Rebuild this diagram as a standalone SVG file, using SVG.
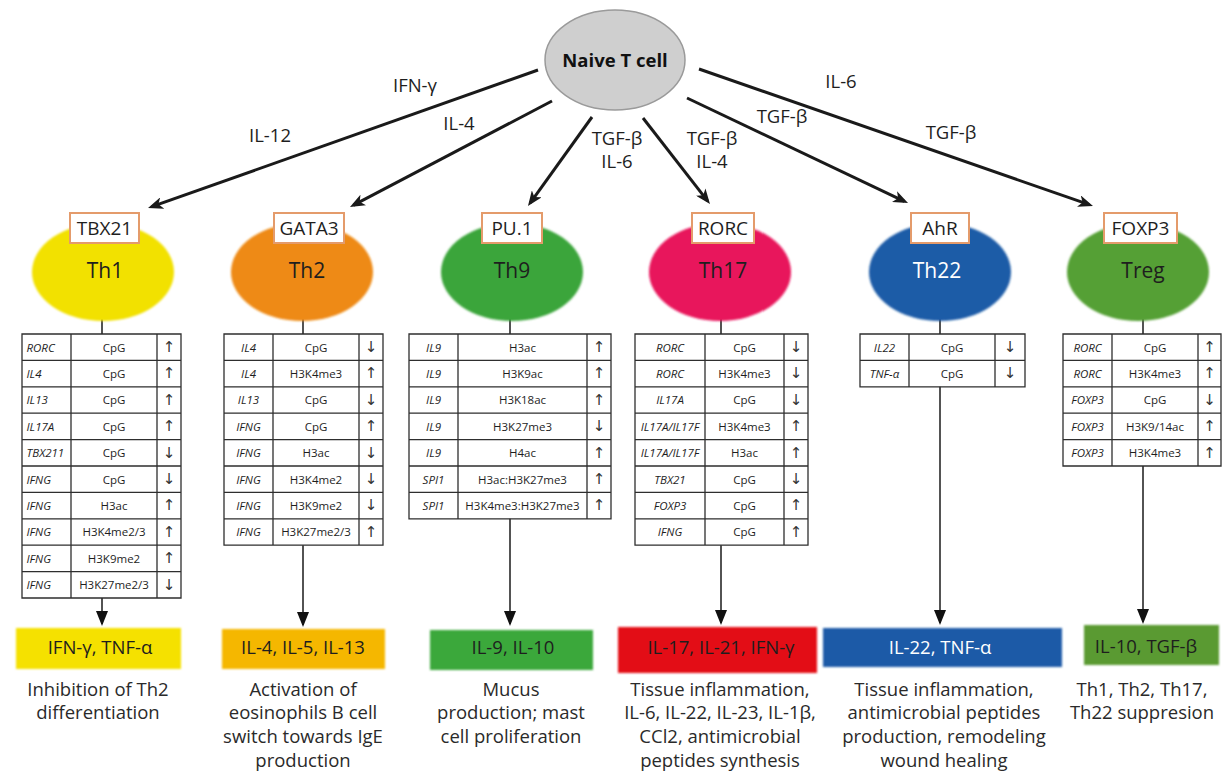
<svg xmlns="http://www.w3.org/2000/svg" width="1222" height="774" viewBox="0 0 1222 774">
<style>
text{font-family:"Open Sans","Noto Sans","Liberation Sans",sans-serif;fill:#1e1e1e}
.lbl{font-size:18.5px;text-anchor:middle}
.tf{font-size:19px;text-anchor:middle}
.cell{font-size:21px;text-anchor:middle}
.ck{font-size:18.5px;text-anchor:middle}
.desc{font-size:18.5px;text-anchor:middle;fill:#2a2a2a}
.g{font-size:11.5px;font-style:italic;text-anchor:middle}
.gl{font-size:11.5px;font-style:italic}
.m{font-size:11.5px;text-anchor:middle}
.a{font-family:"DejaVu Sans",sans-serif;font-size:15px;text-anchor:middle;fill:#333}
.tl{fill:none;stroke:#2e2e2e;stroke-width:1.3}
.tfb{fill:#fff;stroke:#e49b6b;stroke-width:2}
.conn{stroke:#1a1a1a;stroke-width:3;fill:none;marker-end:url(#ah)}
.vc{stroke:#1a1a1a;stroke-width:1.5;fill:none}
.va{marker-end:url(#vh)}
</style>
<defs>
<marker id="ah" viewBox="0 0 15 12" refX="11" refY="6" markerWidth="15" markerHeight="12" markerUnits="userSpaceOnUse" orient="auto"><path d="M0,0 L15,6 L0,12 L4,6 z" fill="#1a1a1a"/></marker>
<marker id="vh" viewBox="0 0 15 12" refX="13" refY="6" markerWidth="15" markerHeight="12" markerUnits="userSpaceOnUse" orient="auto"><path d="M0,0 L15,6 L0,12 z" fill="#111"/></marker>
<filter id="soft" x="-10%" y="-10%" width="120%" height="120%"><feGaussianBlur stdDeviation="1.2"/></filter>
</defs>
<rect width="1222" height="774" fill="#fff"/>

<g id="connectors">
<line class="conn" x1="538" y1="70" x2="151.8" y2="206.7"/>
<line class="conn" x1="552" y1="101" x2="353.5" y2="205.1"/>
<line class="conn" x1="592" y1="117" x2="530.3" y2="202.8"/>
<line class="conn" x1="643" y1="118" x2="707.5" y2="200.8"/>
<line class="conn" x1="687" y1="98" x2="904.4" y2="201.3"/>
<line class="conn" x1="699" y1="69" x2="1089.2" y2="204.7"/>
<text class="lbl" x="415" y="92">IFN-γ</text>
<text class="lbl" x="270" y="142">IL-12</text>
<text class="lbl" x="459" y="130">IL-4</text>
<text class="lbl" x="617" y="145">TGF-β</text>
<text class="lbl" x="617" y="168">IL-6</text>
<text class="lbl" x="712" y="145">TGF-β</text>
<text class="lbl" x="712" y="168">IL-4</text>
<text class="lbl" x="782" y="123">TGF-β</text>
<text class="lbl" x="841" y="88">IL-6</text>
<text class="lbl" x="951" y="139">TGF-β</text>
<line class="vc" x1="102" y1="319" x2="102" y2="334"/>
<line class="vc" x1="303" y1="319" x2="303" y2="334"/>
<line class="vc" x1="510" y1="319" x2="510" y2="334"/>
<line class="vc" x1="721" y1="319" x2="721" y2="334"/>
<line class="vc" x1="940" y1="319" x2="940" y2="334"/>
<line class="vc" x1="1143" y1="319" x2="1143" y2="334"/>
<line class="vc va" x1="102" y1="598" x2="102" y2="624"/>
<line class="vc va" x1="303" y1="545.2" x2="303" y2="625"/>
<line class="vc va" x1="510" y1="518.8" x2="510" y2="624"/>
<line class="vc va" x1="721" y1="545.2" x2="721" y2="623"/>
<line class="vc va" x1="940" y1="386.8" x2="940" y2="623"/>
<line class="vc va" x1="1143" y1="466" x2="1143" y2="622"/>
</g>

<g id="naive">
<ellipse cx="615" cy="60" rx="70" ry="50" fill="#cfcfcf" stroke="#9a9a9a" stroke-width="1.5"/>
<text x="615" y="67" style="font-size:18.5px;font-weight:bold;text-anchor:middle;fill:#111">Naive T cell</text>
</g>

<g id="th1">
<ellipse cx="103" cy="272" rx="71" ry="49" fill="#f2e100" filter="url(#soft)"/>
<rect class="tfb" x="70" y="213" width="69" height="30"/>
<text class="tf" x="104.5" y="235">TBX21</text>
<text class="cell" x="105" y="278">Th1</text>
<g transform="translate(22,334)">
<path class="tl" d="M0,0H159V264H0Z M49,0V264 M135,0V264 M0,26.4H159 M0,52.8H159 M0,79.2H159 M0,105.6H159 M0,132H159 M0,158.4H159 M0,184.8H159 M0,211.2H159 M0,237.6H159"/>
<text class="gl" x="4.5" y="17.5">RORC</text><text class="m" x="92" y="17.5">CpG</text><text class="a" x="147" y="18">↑</text>
<text class="gl" x="4.5" y="43.9">IL4</text><text class="m" x="92" y="43.9">CpG</text><text class="a" x="147" y="44.4">↑</text>
<text class="gl" x="4.5" y="70.3">IL13</text><text class="m" x="92" y="70.3">CpG</text><text class="a" x="147" y="70.8">↑</text>
<text class="gl" x="4.5" y="96.7">IL17A</text><text class="m" x="92" y="96.7">CpG</text><text class="a" x="147" y="97.2">↑</text>
<text class="gl" x="4.5" y="123.1">TBX211</text><text class="m" x="92" y="123.1">CpG</text><text class="a" x="147" y="123.6">↓</text>
<text class="gl" x="4.5" y="149.5">IFNG</text><text class="m" x="92" y="149.5">CpG</text><text class="a" x="147" y="150">↓</text>
<text class="gl" x="4.5" y="175.9">IFNG</text><text class="m" x="92" y="175.9">H3ac</text><text class="a" x="147" y="176.4">↑</text>
<text class="gl" x="4.5" y="202.3">IFNG</text><text class="m" x="92" y="202.3">H3K4me2/3</text><text class="a" x="147" y="202.8">↑</text>
<text class="gl" x="4.5" y="228.7">IFNG</text><text class="m" x="92" y="228.7">H3K9me2</text><text class="a" x="147" y="229.2">↑</text>
<text class="gl" x="4.5" y="255.1">IFNG</text><text class="m" x="92" y="255.1">H3K27me2/3</text><text class="a" x="147" y="255.6">↓</text>
</g>
<rect x="16" y="628" width="165" height="41" fill="#f5e100" filter="url(#soft)"/>
<text class="ck" x="100" y="654">IFN-γ, TNF-α</text>
<text class="desc" x="98" y="695.5">Inhibition of Th2</text>
<text class="desc" x="98" y="719.3">differentiation</text>
</g>

<g id="th2">
<ellipse cx="302" cy="272" rx="71" ry="49" fill="#ee8a14" filter="url(#soft)"/>
<rect class="tfb" x="274" y="213" width="70" height="30"/>
<text class="tf" x="309" y="235">GATA3</text>
<text class="cell" x="307" y="278">Th2</text>
<g transform="translate(224,334)">
<path class="tl" d="M0,0H159V211.2H0Z M49,0V211.2 M135,0V211.2 M0,26.4H159 M0,52.8H159 M0,79.2H159 M0,105.6H159 M0,132H159 M0,158.4H159 M0,184.8H159"/>
<text class="g" x="24.5" y="17.5">IL4</text><text class="m" x="92" y="17.5">CpG</text><text class="a" x="147" y="18">↓</text>
<text class="g" x="24.5" y="43.9">IL4</text><text class="m" x="92" y="43.9">H3K4me3</text><text class="a" x="147" y="44.4">↑</text>
<text class="g" x="24.5" y="70.3">IL13</text><text class="m" x="92" y="70.3">CpG</text><text class="a" x="147" y="70.8">↓</text>
<text class="g" x="24.5" y="96.7">IFNG</text><text class="m" x="92" y="96.7">CpG</text><text class="a" x="147" y="97.2">↑</text>
<text class="g" x="24.5" y="123.1">IFNG</text><text class="m" x="92" y="123.1">H3ac</text><text class="a" x="147" y="123.6">↓</text>
<text class="g" x="24.5" y="149.5">IFNG</text><text class="m" x="92" y="149.5">H3K4me2</text><text class="a" x="147" y="150">↓</text>
<text class="g" x="24.5" y="175.9">IFNG</text><text class="m" x="92" y="175.9">H3K9me2</text><text class="a" x="147" y="176.4">↓</text>
<text class="g" x="24.5" y="202.3">IFNG</text><text class="m" x="92" y="202.3">H3K27me2/3</text><text class="a" x="147" y="202.8">↑</text>
</g>
<rect x="222" y="629" width="163" height="40" fill="#f5b700" filter="url(#soft)"/>
<text class="ck" x="303" y="654">IL-4, IL-5, IL-13</text>
<text class="desc" x="303" y="695.5">Activation of</text>
<text class="desc" x="303" y="719.3">eosinophils B cell</text>
<text class="desc" x="303" y="743.1">switch towards IgE</text>
<text class="desc" x="303" y="767">production</text>
</g>

<g id="th9">
<ellipse cx="512" cy="272" rx="71" ry="49" fill="#3ba53a" filter="url(#soft)"/>
<rect class="tfb" x="482" y="213" width="60" height="30"/>
<text class="tf" x="512" y="235">PU.1</text>
<text class="cell" x="512" y="278">Th9</text>
<g transform="translate(409,334)">
<path class="tl" d="M0,0H202V184.8H0Z M49,0V184.8 M178,0V184.8 M0,26.4H202 M0,52.8H202 M0,79.2H202 M0,105.6H202 M0,132H202 M0,158.4H202"/>
<text class="g" x="24.5" y="17.5">IL9</text><text class="m" x="113.5" y="17.5">H3ac</text><text class="a" x="190" y="18">↑</text>
<text class="g" x="24.5" y="43.9">IL9</text><text class="m" x="113.5" y="43.9">H3K9ac</text><text class="a" x="190" y="44.4">↑</text>
<text class="g" x="24.5" y="70.3">IL9</text><text class="m" x="113.5" y="70.3">H3K18ac</text><text class="a" x="190" y="70.8">↑</text>
<text class="g" x="24.5" y="96.7">IL9</text><text class="m" x="113.5" y="96.7">H3K27me3</text><text class="a" x="190" y="97.2">↓</text>
<text class="g" x="24.5" y="123.1">IL9</text><text class="m" x="113.5" y="123.1">H4ac</text><text class="a" x="190" y="123.6">↑</text>
<text class="g" x="24.5" y="149.5">SPI1</text><text class="m" x="113.5" y="149.5">H3ac:H3K27me3</text><text class="a" x="190" y="150">↑</text>
<text class="g" x="24.5" y="175.9">SPI1</text><text class="m" x="113.5" y="175.9">H3K4me3:H3K27me3</text><text class="a" x="190" y="176.4">↑</text>
</g>
<rect x="430" y="630" width="163" height="40" fill="#3aa83a" filter="url(#soft)"/>
<text class="ck" x="513" y="654">IL-9, IL-10</text>
<text class="desc" x="511" y="695.5">Mucus</text>
<text class="desc" x="511" y="719.3">production; mast</text>
<text class="desc" x="511" y="743.1">cell proliferation</text>
</g>

<g id="th17">
<ellipse cx="720" cy="272" rx="71" ry="49" fill="#e8145b" filter="url(#soft)"/>
<rect class="tfb" x="692" y="213" width="62" height="30"/>
<text class="tf" x="723" y="235">RORC</text>
<text class="cell" x="723" y="278">Th17</text>
<g transform="translate(635,334)">
<path class="tl" d="M0,0H173V211.2H0Z M70,0V211.2 M149,0V211.2 M0,26.4H173 M0,52.8H173 M0,79.2H173 M0,105.6H173 M0,132H173 M0,158.4H173 M0,184.8H173"/>
<text class="g" x="35" y="17.5">RORC</text><text class="m" x="109.5" y="17.5">CpG</text><text class="a" x="161" y="18">↓</text>
<text class="g" x="35" y="43.9">RORC</text><text class="m" x="109.5" y="43.9">H3K4me3</text><text class="a" x="161" y="44.4">↓</text>
<text class="g" x="35" y="70.3">IL17A</text><text class="m" x="109.5" y="70.3">CpG</text><text class="a" x="161" y="70.8">↓</text>
<text class="g" x="35" y="96.7">IL17A/IL17F</text><text class="m" x="109.5" y="96.7">H3K4me3</text><text class="a" x="161" y="97.2">↑</text>
<text class="g" x="35" y="123.1">IL17A/IL17F</text><text class="m" x="109.5" y="123.1">H3ac</text><text class="a" x="161" y="123.6">↑</text>
<text class="g" x="35" y="149.5">TBX21</text><text class="m" x="109.5" y="149.5">CpG</text><text class="a" x="161" y="150">↓</text>
<text class="g" x="35" y="175.9">FOXP3</text><text class="m" x="109.5" y="175.9">CpG</text><text class="a" x="161" y="176.4">↑</text>
<text class="g" x="35" y="202.3">IFNG</text><text class="m" x="109.5" y="202.3">CpG</text><text class="a" x="161" y="202.8">↑</text>
</g>
<rect x="618" y="627" width="199" height="46" fill="#e30a17" filter="url(#soft)"/>
<text class="ck" x="721" y="654">IL-17, IL-21, IFN-γ</text>
<text class="desc" x="720" y="695.5">Tissue inflammation,</text>
<text class="desc" x="720" y="719.3">IL-6, IL-22, IL-23, IL-1β,</text>
<text class="desc" x="720" y="743.1">CCl2, antimicrobial</text>
<text class="desc" x="720" y="767">peptides synthesis</text>
</g>

<g id="th22">
<ellipse cx="940" cy="272" rx="71" ry="49" fill="#1d5ba7" filter="url(#soft)"/>
<rect class="tfb" x="911" y="213" width="58" height="30"/>
<text class="tf" x="940" y="235">AhR</text>
<text class="cell" x="937" y="278" style="fill:#fff">Th22</text>
<g transform="translate(860,334)">
<path class="tl" d="M0,0H165V52.8H0Z M49,0V52.8 M135,0V52.8 M0,26.4H165"/>
<text class="g" x="24.5" y="17.5">IL22</text><text class="m" x="92" y="17.5">CpG</text><text class="a" x="150" y="18">↓</text>
<text class="g" x="24.5" y="43.9">TNF-α</text><text class="m" x="92" y="43.9">CpG</text><text class="a" x="150" y="44.4">↓</text>
</g>
<rect x="823" y="628" width="239" height="39" fill="#1f5aa7" filter="url(#soft)"/>
<text class="ck" x="940" y="654" style="fill:#fff">IL-22, TNF-α</text>
<text class="desc" x="944" y="695.5">Tissue inflammation,</text>
<text class="desc" x="944" y="719.3">antimicrobial peptides</text>
<text class="desc" x="944" y="743.1">production, remodeling</text>
<text class="desc" x="944" y="767">wound healing</text>
</g>

<g id="treg">
<ellipse cx="1138" cy="272" rx="71" ry="49" fill="#55a034" filter="url(#soft)"/>
<rect class="tfb" x="1104" y="213" width="73" height="30"/>
<text class="tf" x="1140.5" y="235">FOXP3</text>
<text class="cell" x="1143" y="278">Treg</text>
<g transform="translate(1063,334)">
<path class="tl" d="M0,0H158V132H0Z M49,0V132 M135,0V132 M0,26.4H158 M0,52.8H158 M0,79.2H158 M0,105.6H158"/>
<text class="g" x="24.5" y="17.5">RORC</text><text class="m" x="92" y="17.5">CpG</text><text class="a" x="146.5" y="18">↑</text>
<text class="g" x="24.5" y="43.9">RORC</text><text class="m" x="92" y="43.9">H3K4me3</text><text class="a" x="146.5" y="44.4">↑</text>
<text class="g" x="24.5" y="70.3">FOXP3</text><text class="m" x="92" y="70.3">CpG</text><text class="a" x="146.5" y="70.8">↓</text>
<text class="g" x="24.5" y="96.7">FOXP3</text><text class="m" x="92" y="96.7">H3K9/14ac</text><text class="a" x="146.5" y="97.2">↑</text>
<text class="g" x="24.5" y="123.1">FOXP3</text><text class="m" x="92" y="123.1">H3K4me3</text><text class="a" x="146.5" y="123.6">↑</text>
</g>
<rect x="1084" y="625" width="135" height="40" fill="#5a9a32" filter="url(#soft)"/>
<text class="ck" x="1146" y="653">IL-10, TGF-β</text>
<text class="desc" x="1142" y="695.5">Th1, Th2, Th17,</text>
<text class="desc" x="1142" y="719.3">Th22 suppresion</text>
</g>
</svg>
